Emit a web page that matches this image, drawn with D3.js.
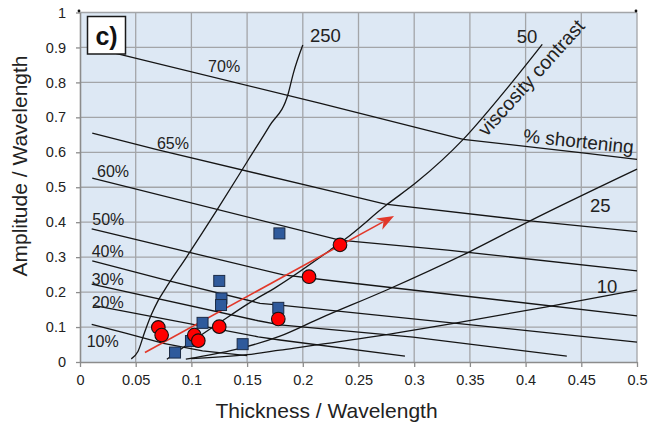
<!DOCTYPE html>
<html><head><meta charset="utf-8">
<script src="https://cdn.jsdelivr.net/npm/d3@7"></script>
<style>body{margin:0;background:#fff;} text{font-family:Arial,"Liberation Sans",sans-serif;}</style>
</head><body><svg id="c" width="651" height="424"></svg>
<script>
// ---- data ----
const xTicks = [0,0.05,0.1,0.15,0.2,0.25,0.3,0.35,0.4,0.45,0.5];
const yTicks = [0,0.1,0.2,0.3,0.4,0.5,0.6,0.7,0.8,0.9,1];
const xTickLabels = ["0","0.05","0.1","0.15","0.2","0.25","0.3","0.35","0.4","0.45","0.5"];
const yTickLabels = ["0","0.1","0.2","0.3","0.4","0.5","0.6","0.7","0.8","0.9","1"];

// blue squares
const squaresX = [0.125,0.127,0.1266,0.110,0.0996,0.0853,0.146,0.178,0.179];
const squaresY = [0.232,0.182,0.163,0.112,0.060,0.027,0.051,0.155,0.368];
// red circles
const circlesX = [0.0703,0.0733,0.1026,0.1062,0.125,0.178,0.2056,0.2334];
const circlesY = [0.099,0.077,0.077,0.061,0.101,0.123,0.244,0.335];

// lines of constant % shortening
const short10 = [[0.0105,0.108],[0.04,0.083],[0.075,0.053],[0.11,0.032],[0.15,0.018]];
const short20 = [[0.012,0.162],[0.16,0.072],[0.1795,0.063],[0.2917,0.017]];
const short30 = [[0.0105,0.223],[0.16,0.118],[0.1795,0.106],[0.299,0.071],[0.437,0.017]];
const short40 = [[0.011,0.289],[0.0763,0.235],[0.1616,0.168],[0.1795,0.163],[0.5,0.057]];
const short50 = [[0.0105,0.381],[0.1825,0.249],[0.23,0.231],[0.5,0.132]];
const short60 = [[0.011,0.526],[0.233,0.349],[0.33,0.32],[0.5,0.261]];
const short65 = [[0.011,0.655],[0.07,0.607],[0.233,0.483],[0.274,0.452],[0.404,0.404],[0.5,0.373]];
const short70 = [[0.01,0.90],[0.0386,0.878],[0.215,0.741],[0.344,0.637],[0.455,0.597],[0.5,0.58]];

// lines of constant viscosity contrast
const visc250 = [[0.046,0.009],[0.052,0.03],[0.058,0.085],[0.064,0.135],[0.070,0.175],[0.0763,0.208],[0.0958,0.301],[0.124,0.44],[0.151,0.578],[0.17,0.675],[0.187,0.769],[0.1915,0.826],[0.2,0.907]];
const visc50 = [[0.078,0.008],[0.1,0.058],[0.125,0.112],[0.15,0.165],[0.1765,0.215],[0.2244,0.32],[0.239,0.354],[0.275,0.449],[0.302,0.514],[0.344,0.637],[0.38,0.77],[0.415,0.909]];
const visc25 = [[0.095,0.008],[0.14,0.036],[0.1795,0.074],[0.2154,0.125],[0.2753,0.206],[0.35,0.316],[0.404,0.404],[0.5,0.552]];
const visc10 = [[0.1,0.01],[0.15,0.021],[0.1795,0.034],[0.25,0.066],[0.338,0.112],[0.419,0.158],[0.5,0.206]];

// trend arrow
const arrowFrom = [0.0583,0.027];
const arrowTo = [0.2819,0.418];

// ---- drawing ----
const svg = d3.select("#c");
const m = {l:80, t:12.5, w:557, h:349.5};
const x = d3.scaleLinear().domain([0,0.5]).range([m.l, m.l+m.w]);
const y = d3.scaleLinear().domain([0,1]).range([m.t+m.h, m.t]);

svg.append("rect").attr("x",x(0)).attr("y",y(1)).attr("width",x(0.5)-x(0)).attr("height",y(0)-y(1)).attr("fill","#dde8f4");

const grid = svg.append("g").attr("stroke","#a3a5a8").attr("stroke-width",1.3);
xTicks.slice(1).forEach(t=>grid.append("line").attr("x1",x(t)).attr("x2",x(t)).attr("y1",y(0)).attr("y2",y(1)));
yTicks.slice(1).forEach(t=>grid.append("line").attr("x1",x(0)).attr("x2",x(0.5)).attr("y1",y(t)).attr("y2",y(t)));

const xa = svg.append("g").attr("transform",`translate(0,${y(0)})`)
  .call(d3.axisBottom(x).tickValues(xTicks).tickFormat((d,i)=>xTickLabels[i]).tickSize(5).tickSizeOuter(0).tickPadding(8));
const ya = svg.append("g").attr("transform",`translate(${x(0)},0)`)
  .call(d3.axisLeft(y).tickValues(yTicks).tickFormat((d,i)=>yTickLabels[i]).tickSize(4).tickSizeOuter(0).tickPadding(10));
[xa,ya].forEach(a=>{
  a.select(".domain").attr("stroke","#8c8c8c").attr("stroke-width",1.6);
  a.selectAll(".tick line").attr("stroke","#8c8c8c").attr("stroke-width",1.3);
  a.selectAll("text").attr("font-size",14.5).attr("fill","#222").attr("font-family","Arial, 'Liberation Sans', sans-serif");
});

const line = d3.line().x(d=>x(d[0])).y(d=>y(d[1]));
const curve = d3.line().x(d=>x(d[0])).y(d=>y(d[1])).curve(d3.curveMonotoneX);
const lg = svg.append("g").attr("fill","none").attr("stroke","#151515").attr("stroke-width",1.3);
[short10,short20,short30,short40,short50,short60,short65,short70].forEach(s=>lg.append("path").attr("d",line(s)));
[visc250,visc50,visc25,visc10].forEach(s=>lg.append("path").attr("d",curve(s)));

// label box c)
svg.append("rect").attr("x",87.5).attr("y",16.5).attr("width",38).attr("height",37.5)
  .attr("fill","#fff").attr("stroke","#1a1a1a").attr("stroke-width",1.5);
svg.append("text").attr("x",106.5).attr("y",45).attr("text-anchor","middle")
  .attr("font-size",25).attr("font-weight","bold").attr("fill","#111").text("c)");

// annotation labels
const pctLabels = [["70%",0.115,0.831],["65%",0.0691,0.609],["60%",0.0153,0.529],["50%",0.011,0.392],
  ["40%",0.0105,0.300],["30%",0.0105,0.220],["20%",0.0105,0.1545],["10%",0.006,0.0438]];
pctLabels.forEach(l=>svg.append("text").attr("x",x(l[1])).attr("y",y(l[2])).attr("font-size",16).attr("fill","#222").text(l[0]));
const viscLabels = [["250",0.2065,0.9156],["50",0.392,0.912],["25",0.4578,0.43],["10",0.4638,0.198]];
viscLabels.forEach(l=>svg.append("text").attr("x",x(l[1])).attr("y",y(l[2])).attr("font-size",18.5).attr("fill","#222").text(l[0]));
svg.append("text").attr("transform",`translate(${x(0.405)},${y(0.814)}) rotate(-48)`).attr("text-anchor","middle")
  .attr("dy","0.35em").attr("font-size",19.5).attr("fill","#222").text("viscosity contrast");
svg.append("text").attr("transform",`translate(${x(0.4475)},${y(0.632)}) rotate(6)`).attr("text-anchor","middle")
  .attr("dy","0.35em").attr("font-size",19).attr("fill","#222").text("% shortening");

// arrow
const ax0=x(arrowFrom[0]), ay0=y(arrowFrom[1]), ax1=x(arrowTo[0]), ay1=y(arrowTo[1]);
const ang = Math.atan2(ay1-ay0, ax1-ax0), hl=17, hw=6.5;
const bx = ax1-hl*Math.cos(ang), by = ay1-hl*Math.sin(ang);
svg.append("line").attr("x1",ax0).attr("y1",ay0).attr("x2",bx+4*Math.cos(ang)).attr("y2",by+4*Math.sin(ang))
  .attr("stroke","#e2382a").attr("stroke-width",1.6);
svg.append("path").attr("fill","#e2382a").attr("d",
  `M${ax1},${ay1}L${bx-hw*Math.sin(ang)},${by+hw*Math.cos(ang)}L${bx+5*Math.cos(ang)},${by+5*Math.sin(ang)}L${bx+hw*Math.sin(ang)},${by-hw*Math.cos(ang)}Z`);

// markers
svg.append("g").selectAll("rect").data(squaresX).join("rect")
  .attr("x",(d,i)=>x(d)-5.5).attr("y",(d,i)=>y(squaresY[i])-5.5).attr("width",11).attr("height",11)
  .attr("fill","#2f5a9c").attr("stroke","#1b2b45").attr("stroke-width",1);
svg.append("g").selectAll("circle").data(circlesX).join("circle")
  .attr("cx",d=>x(d)).attr("cy",(d,i)=>y(circlesY[i])).attr("r",6.8)
  .attr("fill","#ff0000").attr("stroke","#111").attr("stroke-width",1.1);

// corner dots
[[0,1],[0.5,1]].forEach(p=>svg.append("circle").attr("cx",x(p[0])-1).attr("cy",y(p[1])-1.5).attr("r",1.4).attr("fill","#111"));

// axis titles
svg.append("text").attr("x",326.5).attr("y",418).attr("text-anchor","middle").attr("font-size",21).attr("fill","#222").text("Thickness / Wavelength");
svg.append("text").attr("transform","translate(27,166) rotate(-90)").attr("text-anchor","middle").attr("font-size",21).attr("fill","#222").text("Amplitude / Wavelength");
</script></body></html>
